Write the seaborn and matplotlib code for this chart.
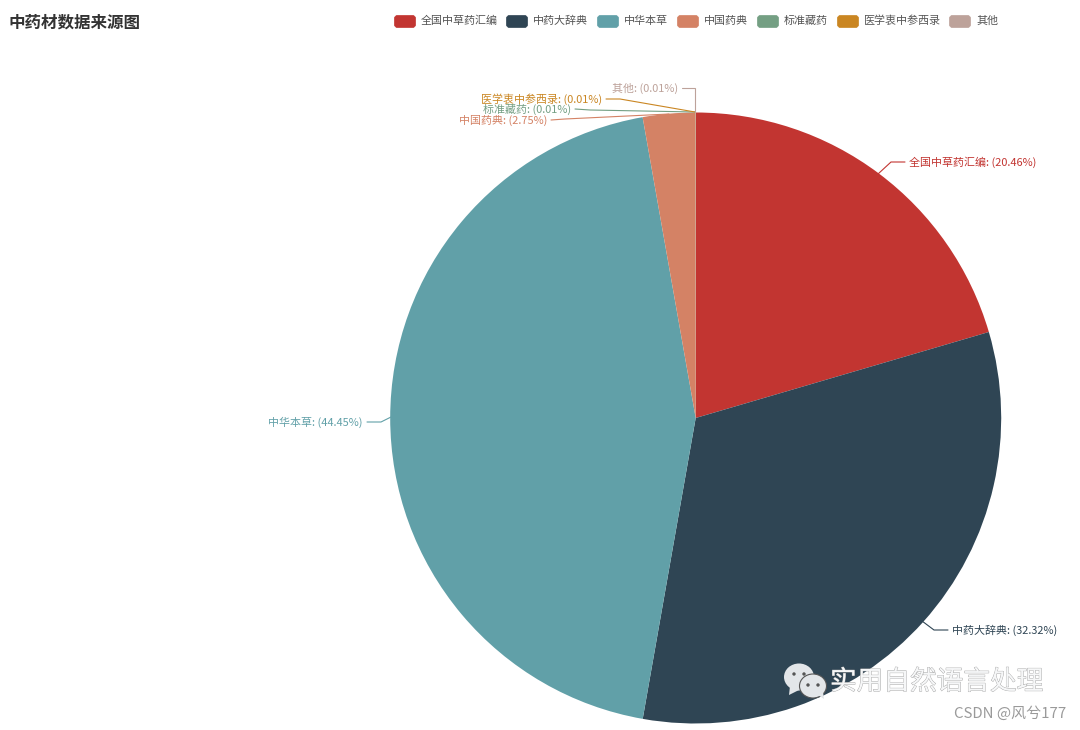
import matplotlib
matplotlib.use("Agg")
import matplotlib.pyplot as plt
import matplotlib.patheffects as pe
from matplotlib.patches import FancyBboxPatch, Ellipse, Circle, Polygon
import seaborn as sns

sns.set_theme(style="white")
plt.rcParams['font.family'] = ['Noto Sans CJK SC', 'DejaVu Sans']

title = "中药材数据来源图"
categories = ["全国中草药汇编", "中药大辞典", "中华本草", "中国药典", "标准藏药", "医学衷中参西录", "其他"]
values = [20.46, 32.32, 44.45, 2.75, 0.01, 0.01, 0.01]
colors = ["#c23531", "#2f4554", "#61a0a8", "#d48265", "#749f83", "#ca8622", "#bda29a"]
label_texts = ["全国中草药汇编: (20.46%)", "中药大辞典: (32.32%)", "中华本草: (44.45%)", "中国药典: (2.75%)",
               "标准藏药: (0.01%)", "医学衷中参西录: (0.01%)", "其他: (0.01%)"]
W, H = 1080, 730
fig = plt.figure(figsize=(W/100, H/100), dpi=100, facecolor="white")
cx, cy, R = 695.7, 418, 305.5
ax = fig.add_axes([(cx-R)/W, 1-(cy+R)/H, 2*R/W, 2*R/H])
ax.pie(values, colors=colors, startangle=90, counterclock=False, radius=1,
       wedgeprops=dict(linewidth=0))
ax.set_xlim(-1, 1); ax.set_ylim(-1, 1); ax.set_aspect("equal")

ov = fig.add_axes([0, 0, 1, 1], facecolor="none")
ov.set_xlim(0, W); ov.set_ylim(H, 0); ov.axis("off")
ov.text(9, 23, title, fontsize=11.9, fontweight="bold", color="#333333", va="center")

# legend
legend_x = [394, 506, 597, 677, 757, 837, 949]
for x, c, n in zip(legend_x, colors, categories):
    ov.add_patch(FancyBboxPatch((x+0.5, 15.5), 21, 12, boxstyle="round,pad=0,rounding_size=3", fc=c, ec=c, lw=0.5))
    ov.text(x+27, 21, n, fontsize=7.95, color="#555555", va="center")

# callouts
line_pts = [
    [(878,174),(891,162),(905,162)],
    [(922,621),(934,630),(948,630)],
    [(391,417),(381,422),(367,422)],
    [(669,114),(565,119),(551,120)],
    [(695,112),(590,110),(575,109)],
    [(695,112),(620,99),(606,99)],
    [(695,112),(695,88),(682,88)],
]
text_pos = [(909,162,"left"),(952,630,"left"),(363,422,"right"),(547,120,"right"),(571,109.5,"right"),(602,99,"right"),(678,88,"right")]
for c, txt, pts, (tx, ty, ha) in zip(colors, label_texts, line_pts, text_pos):
    ov.plot([p[0] for p in pts], [p[1] for p in pts], color=c, lw=0.8, solid_joinstyle="miter")
    ov.text(tx, ty, txt, fontsize=7.9, color=c, ha=ha, va="center")

# watermark
ov.text(830, 682, "实用自然语言处理", fontsize=19.2, color="#f6f7f8", va="center",
        path_effects=[pe.withStroke(linewidth=0.6, foreground="#a5a5a5")])
ov.text(1066, 714, "CSDN @风兮177", fontsize=10.8, color="#9a9a9a", ha="right", va="center")
icon = "#e3e6e9"
ov.add_patch(Polygon([(790,686),(789,695),(799,690)], fc=icon, ec="none"))
ov.add_patch(Ellipse((799, 677), 30, 27, fc=icon, ec="none"))
ov.add_patch(Ellipse((813, 686), 27, 24, fc=icon, ec="#555555", lw=0.8))
ov.add_patch(Polygon([(818,695),(824,699),(823,692)], fc=icon, ec="none"))
for (x, y) in [(794, 674), (804, 674), (808, 685), (818, 685)]:
    ov.add_patch(Circle((x, y), 1.7, fc="#555555", ec="none"))

fig.savefig("out.png", dpi=100, facecolor="white")
